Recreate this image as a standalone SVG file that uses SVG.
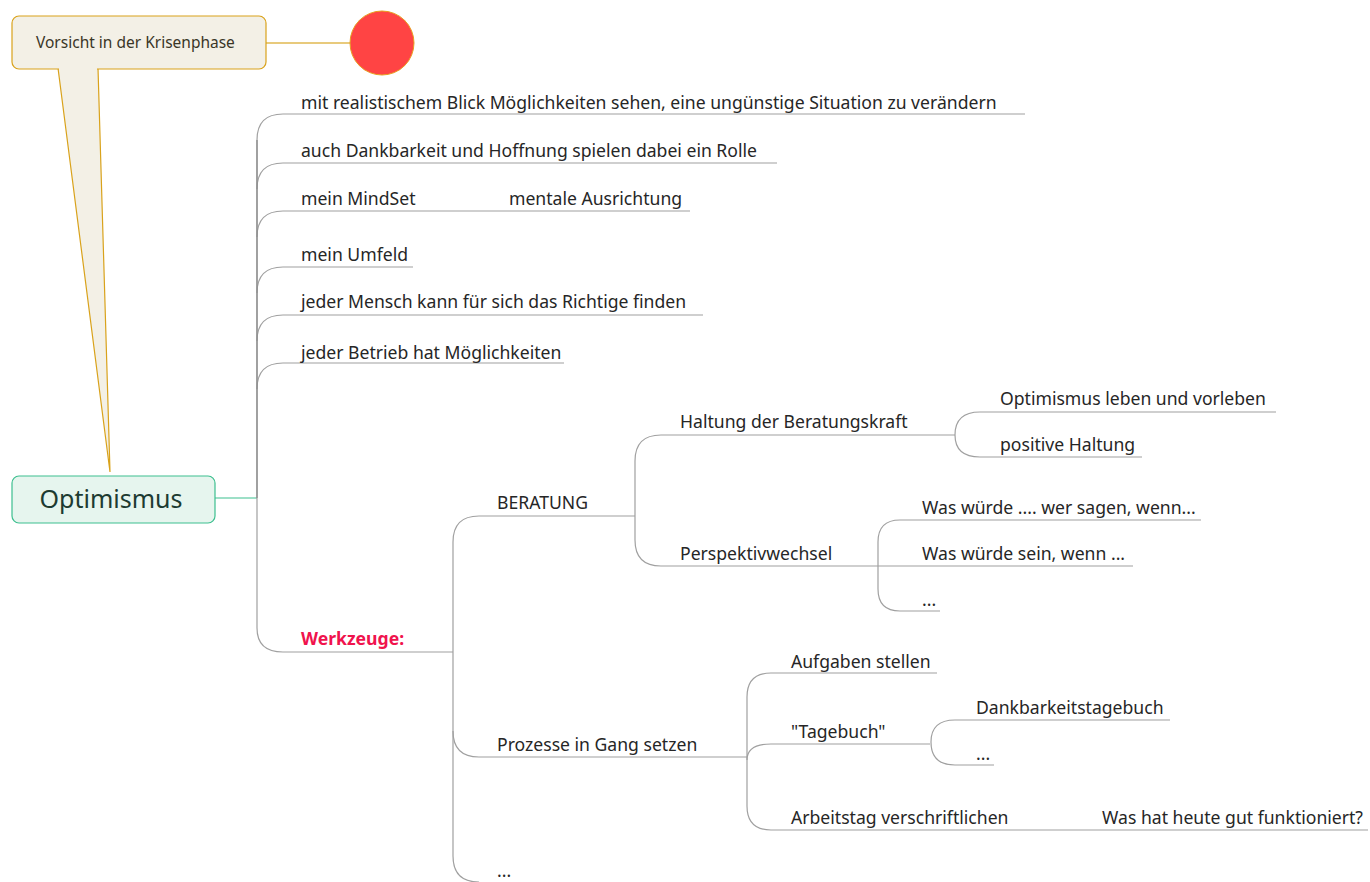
<svg xmlns="http://www.w3.org/2000/svg" width="1370" height="882" viewBox="0 0 1370 882">
  <style>
    .t { font-family: "Noto Sans", "Open Sans", sans-serif; font-size: 17.6px; fill: #262626; }
    .c { fill: none; stroke: #a0a0a0; stroke-width: 1.2; }
    .callout { fill: #F3F0E6; stroke: #D9A21B; stroke-width: 1.2; }
  </style>
  <rect width="1370" height="882" fill="#ffffff"/>

  <!-- connectors -->
  <g id="connectors">
    <!-- callout to marker -->
    <path d="M266,43 H350" stroke="#E0B850" stroke-width="1.5" fill="none"/>
    <!-- root to first level -->
    <path d="M215,498 H257" stroke="#3DBF8F" stroke-width="1.2" fill="none"/>
    <path class="c" d="M257,140 Q257,114 283,114 H1025"/>
    <path class="c" d="M257,140 V628 Q257,652 283,652 H453"/>
    <path class="c" d="M257,189 Q257,163 283,163 H777"/>
    <path class="c" d="M257,237 Q257,211 283,211 H690"/>
    <path class="c" d="M257,293 Q257,267 283,267 H413"/>
    <path class="c" d="M257,341 Q257,315 283,315 H703"/>
    <path class="c" d="M257,389 Q257,363 283,363 H564"/>
    <path d="M257,140 V498" stroke="#888" stroke-width="1.2" fill="none"/>
    <!-- Werkzeuge -->
    <path class="c" d="M453,542 Q453,516 479,516 H635"/>
    <path class="c" d="M453,542 V856 Q453,882 479,882"/>
    <path class="c" d="M453,731 Q453,757 479,757 H747"/>
    <!-- BERATUNG -->
    <path class="c" d="M635,461 Q635,435 661,435 H955"/>
    <path class="c" d="M635,461 V540 Q635,566 661,566 H1133"/>
    <!-- Haltung der Beratungskraft -->
    <path class="c" d="M1276,412 H980 Q955,412 955,435 Q955,457 980,457 H1142"/>
    <!-- Perspektivwechsel -->
    <path class="c" d="M1201,520 H900 Q878,520 878,542 V589 Q878,611 900,611 H940"/>
    <!-- Prozesse in Gang setzen -->
    <path class="c" d="M937,673 H771 Q747,673 747,697 V806 Q747,830 771,830 H1368"/>
    <path class="c" d="M747,760 Q747,744 771,744 H930"/>
    <!-- "Tagebuch" -->
    <path class="c" d="M1170,720 H955 Q931,720 931,742 Q931,765 955,765 H994"/>
  </g>

  <!-- callout -->
  <g id="callout">
    <polygon class="callout" points="58,68 110,472 98,68"/>
    <rect class="callout" x="12" y="16" width="254" height="53" rx="7"/>
    <path d="M59,69 H97" stroke="#F3F0E6" stroke-width="2"/>
    <text x="36" y="48" style="font-family:'Noto Sans','Open Sans',sans-serif;font-size:15.5px;fill:#3a3626">Vorsicht in der Krisenphase</text>
  </g>

  <g id="marker">
    <circle cx="382" cy="43" r="32" fill="#FF4444" stroke="#E8A020" stroke-width="1"/>
  </g>

  <g id="root">
    <rect x="12" y="476" width="203" height="47" rx="7" fill="#E6F5EE" stroke="#3DBF8F" stroke-width="1.2"/>
    <text x="111" y="508" text-anchor="middle" style="font-family:'Noto Sans','Open Sans',sans-serif;font-size:25px;fill:#1d3b31">Optimismus</text>
  </g>

  <g id="n1"><text class="t" x="301" y="109">mit realistischem Blick Möglichkeiten sehen, eine ungünstige Situation zu verändern</text></g>
  <g id="n2"><text class="t" x="301" y="157">auch Dankbarkeit und Hoffnung spielen dabei ein Rolle</text></g>
  <g id="n3"><text class="t" x="301" y="205">mein MindSet</text></g>
  <g id="n3a"><text class="t" x="509" y="205">mentale Ausrichtung</text></g>
  <g id="n4"><text class="t" x="301" y="261">mein Umfeld</text></g>
  <g id="n5"><text class="t" x="301" y="308">jeder Mensch kann für sich das Richtige finden</text></g>
  <g id="n6"><text class="t" x="301" y="359">jeder Betrieb hat Möglichkeiten</text></g>
  <g id="n7"><text class="t" x="301" y="645" style="font-weight:bold;fill:#F0134D">Werkzeuge:</text></g>

  <g id="n8"><text class="t" x="497" y="509">BERATUNG</text></g>
  <g id="n9"><text class="t" x="497" y="751">Prozesse in Gang setzen</text></g>
  <g id="n10"><text class="t" x="497" y="877">...</text></g>

  <g id="n11"><text class="t" x="680" y="428">Haltung der Beratungskraft</text></g>
  <g id="n12"><text class="t" x="680" y="560">Perspektivwechsel</text></g>
  <g id="n13"><text class="t" x="1000" y="405">Optimismus leben und vorleben</text></g>
  <g id="n14"><text class="t" x="1000" y="451">positive Haltung</text></g>
  <g id="n15"><text class="t" x="922" y="514">Was würde .... wer sagen, wenn...</text></g>
  <g id="n16"><text class="t" x="922" y="560">Was würde sein, wenn ...</text></g>
  <g id="n17"><text class="t" x="922" y="606">...</text></g>

  <g id="n18"><text class="t" x="791" y="668">Aufgaben stellen</text></g>
  <g id="n19"><text class="t" x="791" y="738">"Tagebuch"</text></g>
  <g id="n20"><text class="t" x="791" y="824">Arbeitstag verschriftlichen</text></g>
  <g id="n21"><text class="t" x="1102" y="824">Was hat heute gut funktioniert?</text></g>
  <g id="n22"><text class="t" x="976" y="714">Dankbarkeitstagebuch</text></g>
  <g id="n23"><text class="t" x="976" y="760">...</text></g>
</svg>
